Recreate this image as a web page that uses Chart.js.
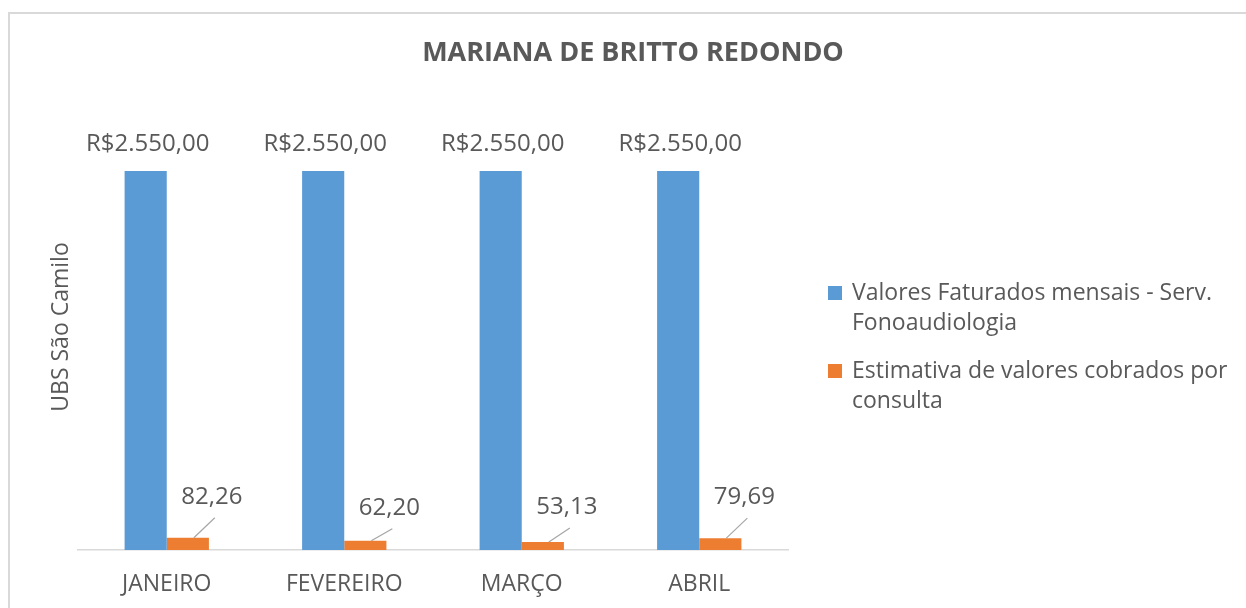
<!DOCTYPE html>
<html>
<head>
<meta charset="utf-8">
<script src="https://cdn.jsdelivr.net/npm/chart.js@4.4.0/dist/chart.umd.min.js"></script>
<style>
  html, body { margin: 0; padding: 0; background: #ffffff; }
  #wrap { position: absolute; left: 0; top: 0; width: 1246px; height: 608px; }
  #frame { position: absolute; left: 8px; top: 12px; width: 1250px; height: 620px;
           border-left: 2px solid #d9d9d9; border-top: 2px solid #d9d9d9; box-sizing: border-box; }
  canvas { position: absolute; left: 0; top: 0; }
</style>
</head>
<body>
<div id="wrap">
  <div id="frame"></div>
  <canvas id="c" width="1246" height="608"></canvas>
</div>
<script>
const chartTitle = 'MARIANA DE BRITTO REDONDO';
const yAxisTitle = 'UBS São Camilo';
const categories = ['JANEIRO', 'FEVEREIRO', 'MARÇO', 'ABRIL'];
const faturados = [2550, 2550, 2550, 2550];
const estimativa = [82.26, 62.20, 53.13, 79.69];
const seriesNames = [
  ['Valores Faturados mensais - Serv.', 'Fonoaudiologia'],
  ['Estimativa de valores cobrados por', 'consulta']
];
const seriesColors = ['#5B9BD5', '#ED7D31'];

const TEXT = '#595959';
const FONT = '"Open Sans", sans-serif';

function fmtBRL(v) {
  return 'R$' + v.toLocaleString('pt-BR', { minimumFractionDigits: 2, maximumFractionDigits: 2 });
}
function fmtNum(v) {
  return v.toLocaleString('pt-BR', { minimumFractionDigits: 2, maximumFractionDigits: 2 });
}

const decor = {
  id: 'decor',
  afterDatasetsDraw(chart) {
    const ctx = chart.ctx;
    ctx.save();
    // Title
    ctx.fillStyle = TEXT;
    ctx.font = 'bold 27px ' + FONT;
    ctx.textAlign = 'center';
    ctx.textBaseline = 'middle';
    ctx.fillText(chartTitle, 633, 53);

    // Blue labels
    const m0 = chart.getDatasetMeta(0);
    ctx.font = '24px ' + FONT;
    m0.data.forEach((el, i) => {
      ctx.fillText(fmtBRL(faturados[i]), el.x + 2, el.y - 27);
    });

    // Orange labels with leader lines
    const m1 = chart.getDatasetMeta(1);
    const lift = [41, 33, 35, 41];
    m1.data.forEach((el, i) => {
      const lx = el.x + 24;
      const ly = el.y - lift[i];
      ctx.strokeStyle = '#a6a6a6';
      ctx.lineWidth = 1.2;
      ctx.beginPath();
      ctx.moveTo(el.x + 6, el.y);
      ctx.lineTo(lx + 3, ly + 21);
      ctx.stroke();
      ctx.fillStyle = TEXT;
      ctx.fillText(fmtNum(estimativa[i]), lx, ly);
    });

    // Legend
    ctx.textAlign = 'left';
    ctx.font = '23px ' + FONT;
    const startY = [293, 371];
    seriesNames.forEach((lines, i) => {
      ctx.fillStyle = seriesColors[i];
      ctx.fillRect(828, startY[i] - 7, 14, 14);
      ctx.fillStyle = TEXT;
      lines.forEach((t, j) => ctx.fillText(t, 852, startY[i] + j * 30));
    });
    ctx.restore();
  }
};

new Chart(document.getElementById('c'), {
  type: 'bar',
  data: {
    labels: categories,
    datasets: [
      { label: seriesNames[0].join(' '), data: faturados, backgroundColor: seriesColors[0] },
      { label: seriesNames[1].join(' '), data: estimativa, backgroundColor: seriesColors[1] }
    ]
  },
  options: {
    responsive: false,
    animation: false,
    devicePixelRatio: 1,
    layout: { padding: { left: 20, top: 104, right: 458, bottom: 0 } },
    datasets: { bar: { categoryPercentage: 0.475, barPercentage: 1.0 } },
    plugins: { legend: { display: false }, title: { display: false }, tooltip: { enabled: false } },
    scales: {
      x: {
        grid: { display: false, drawTicks: false },
        border: { display: true, color: '#d9d9d9', width: 1.5 },
        ticks: { color: TEXT, font: { family: FONT, size: 23 }, padding: 21, maxRotation: 0 },
        afterFit(s) { s.height = 58; }
      },
      y: {
        min: 0, max: 3000,
        grid: { display: false, drawTicks: false },
        border: { display: false },
        ticks: { display: false },
        title: { display: true, text: yAxisTitle, color: TEXT, font: { family: FONT, size: 23 }, padding: { top: 28, bottom: 0 } },
        afterFit(s) { s.width = 58; }
      }
    }
  },
  plugins: [decor]
});
</script>
</body>
</html>
